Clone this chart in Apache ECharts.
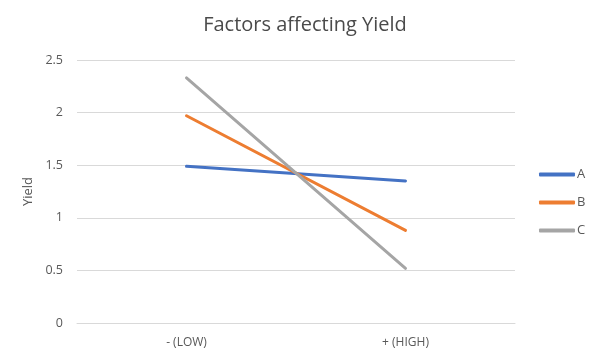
<!DOCTYPE html>
<html>
<head>
<meta charset="utf-8">
<script src="https://cdn.jsdelivr.net/npm/echarts@6/dist/echarts.min.js"></script>
<style>
html,body{margin:0;padding:0;background:#fff;}
#chart{width:599px;height:357px;}
</style>
</head>
<body>
<div id="chart"></div>
<script>
const categories = ['- (LOW)', '+ (HIGH)'];
const seriesNames = ['A', 'B', 'C'];
const valuesA = [1.49, 1.35];
const valuesB = [1.97, 0.88];
const valuesC = [2.33, 0.52];
const yTicks = [0, 0.5, 1, 1.5, 2, 2.5];

const colors = ['#4472C4', '#ED7D31', '#A5A5A5'];
const font = '"Open Sans", "Noto Sans", sans-serif';
const chart = echarts.init(document.getElementById('chart'));
const allValues = [valuesA, valuesB, valuesC];

chart.setOption({
  animation: false,
  color: colors,
  title: {
    text: 'Factors affecting Yield',
    left: 300, top: 10, textAlign: 'center',
    textStyle: { fontFamily: font, fontSize: 20, fontWeight: 'normal', color: '#4a4a4a' }
  },
  legend: {
    orient: 'vertical',
    left: 539, top: 168, padding: 0,
    itemWidth: 36, itemHeight: 4, itemGap: 15,
    icon: 'roundRect',
    textStyle: { fontFamily: font, fontSize: 13, color: '#595959', padding: [0,0,0,-3] },
    data: seriesNames
  },
  grid: { left: 77, right: 84, top: 60, bottom: 34, containLabel: false },
  xAxis: {
    type: 'category',
    data: categories,
    boundaryGap: true,
    axisLine: { lineStyle: { color: '#D9D9D9', width: 1 } },
    axisTick: { show: false },
    axisLabel: { fontFamily: font, fontSize: 12, color: '#595959', margin: 14 }
  },
  yAxis: {
    type: 'value',
    min: yTicks[0], max: yTicks[yTicks.length - 1], interval: 0.5,
    name: 'Yield', nameLocation: 'middle', nameGap: 42, nameRotate: 90,
    nameTextStyle: { fontFamily: font, fontSize: 13, color: '#595959' },
    axisLine: { show: false },
    axisTick: { show: false },
    splitLine: { lineStyle: { color: '#D9D9D9', width: 1 } },
    axisLabel: { fontFamily: font, fontSize: 12.5, color: '#595959', margin: 14 }
  },
  series: seriesNames.map((n, i) => ({
    name: n,
    type: 'line',
    data: allValues[i],
    symbol: 'none',
    lineStyle: { width: 3, cap: 'round' }
  }))
});
</script>
</body>
</html>
